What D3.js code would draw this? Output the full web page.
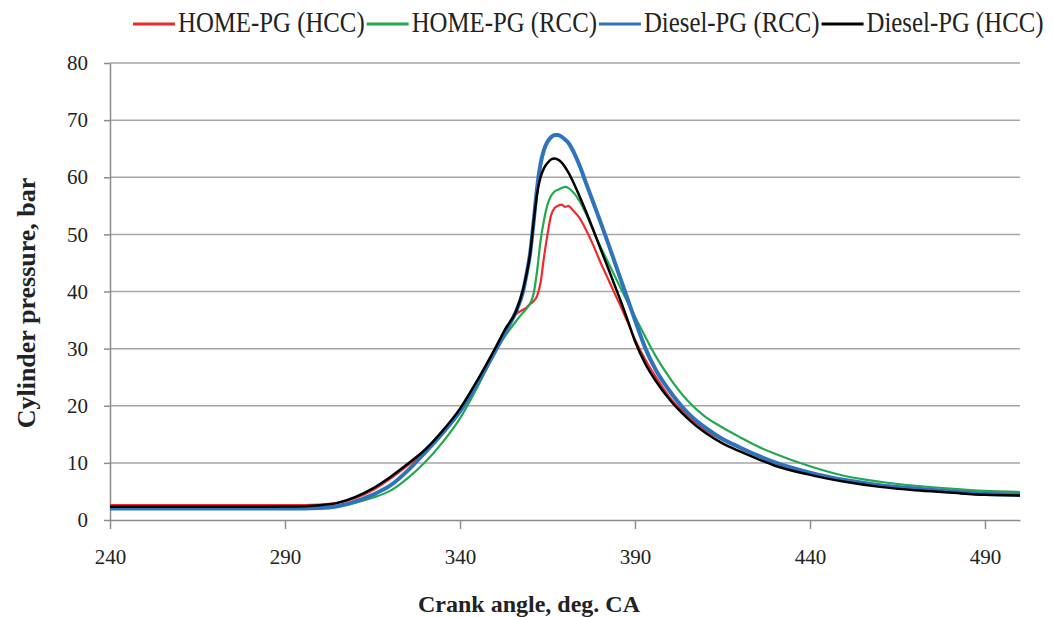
<!DOCTYPE html>
<html>
<head>
<meta charset="utf-8">
<script src="https://cdn.jsdelivr.net/npm/d3@7"></script>
<style>
	body { margin: 0; background: #fff; }
	text { font-family: "Liberation Serif", "Times New Roman", serif; fill: #222; }
</style>
</head>
<body>
<script>
const width = 1053;
const height = 617;

// crank angle grid, deg CA
const angles = [240, 260, 280, 290, 300, 305, 310, 315, 320, 325, 330, 335, 340, 345, 350, 353, 356, 358, 359, 360,
	361, 362, 363, 364, 365, 366, 367, 368, 369, 370, 371, 372, 374, 376, 378, 380, 382, 384, 386, 388,
	390, 393, 396, 400, 405, 410, 415, 420, 425, 430, 440, 450, 460, 470, 480, 490, 500];

// cylinder pressure, bar
const homeHcc = [2.6, 2.6, 2.6, 2.6, 2.7, 3.0, 3.8, 5.2, 7.2, 9.5, 12.0, 15.3, 19.2, 24.2, 29.5, 33.0, 36.0, 36.8, 37.2, 37.8,
	38.3, 39.2, 41.5, 46.0, 50.0, 53.3, 54.6, 55.0, 55.2, 54.8, 55.0, 54.4, 53.0, 50.8, 48.2, 45.3, 42.6, 39.9, 37.3, 34.5,
	31.6, 28.0, 25.0, 21.4, 18.2, 15.8, 14.0, 12.6, 11.3, 10.1, 8.3, 7.0, 6.1, 5.5, 5.1, 4.7, 4.5];
const homeRcc = [2.0, 2.0, 2.0, 2.0, 2.1, 2.3, 3.0, 3.9, 5.1, 7.3, 10.1, 13.6, 17.8, 23.3, 29.3, 32.3, 34.8, 36.3, 37.0, 37.9,
	39.5, 43.5, 48.8, 52.5, 55.2, 56.7, 57.5, 57.8, 58.1, 58.3, 58.1, 57.6, 56.0, 53.6, 50.8, 48.0, 45.5, 43.0, 40.5, 38.0,
	35.6, 32.0, 28.6, 24.8, 20.9, 18.1, 16.2, 14.5, 12.9, 11.6, 9.4, 7.7, 6.7, 6.0, 5.5, 5.1, 4.9];
const dieselRcc = [2.0, 2.0, 2.0, 2.0, 2.1, 2.4, 3.2, 4.4, 6.0, 8.6, 11.8, 15.2, 19.0, 24.0, 29.5, 33.0, 36.5, 40.0, 43.0, 46.5,
	52.0, 58.0, 62.3, 64.8, 66.2, 67.0, 67.4, 67.4, 67.1, 66.6, 66.0, 65.0, 62.3, 59.0, 55.7, 52.4, 49.0, 45.5, 42.0, 38.5,
	35.0, 30.0, 26.2, 22.5, 18.8, 16.2, 14.2, 12.7, 11.3, 10.1, 8.3, 7.0, 6.1, 5.5, 5.0, 4.6, 4.4];
const dieselHcc = [2.3, 2.3, 2.3, 2.35, 2.6, 3.0, 4.0, 5.5, 7.5, 9.8, 12.3, 15.6, 19.5, 24.5, 30.0, 33.5, 36.5, 40.3, 43.0, 46.5,
	52.0, 57.0, 60.0, 61.6, 62.5, 63.1, 63.3, 63.1, 62.6, 61.8, 60.8, 59.6, 56.9, 54.0, 50.9, 47.7, 44.6, 41.4, 38.2, 34.8,
	31.3, 27.3, 24.3, 21.0, 17.8, 15.3, 13.4, 12.0, 10.7, 9.5, 7.9, 6.7, 5.8, 5.2, 4.8, 4.4, 4.3];

const seriesNames = ["HOME-PG (HCC)", "HOME-PG (RCC)", "Diesel-PG (RCC)", "Diesel-PG (HCC)"];
const seriesValues = [homeHcc, homeRcc, dieselRcc, dieselHcc];
const seriesColors = ["#ee2a2a", "#22a94f", "#2f74ba", "#000000"];
const seriesWidths = [2.2, 2.2, 4, 2.5];

const xTicks = [240, 290, 340, 390, 440, 490];
const yTicks = [0, 10, 20, 30, 40, 50, 60, 70, 80];

const margin = { top: 63, right: 33, bottom: 97, left: 110 };

const svg = d3.select("body").append("svg")
	.attr("width", width)
	.attr("height", height);

const x = d3.scaleLinear().domain([240, 500]).range([margin.left, width - margin.right]);
const y = d3.scaleLinear().domain([0, 80]).range([height - margin.bottom, margin.top]);

// gridlines
svg.append("g")
	.selectAll("line")
	.data(yTicks.filter(d => d > 0))
	.join("line")
	.attr("x1", x(240)).attr("x2", x(500))
	.attr("y1", d => y(d)).attr("y2", d => y(d))
	.attr("stroke", "#a6a6a6")
	.attr("stroke-width", 1.5);

// axes
const xAxis = svg.append("g")
	.attr("transform", `translate(0,${y(0)})`)
	.call(d3.axisBottom(x).tickValues(xTicks).tickSize(9).tickPadding(20).tickSizeOuter(0));
const yAxis = svg.append("g")
	.attr("transform", `translate(${x(240)},0)`)
	.call(d3.axisLeft(y).tickValues(yTicks).tickSize(6).tickPadding(16).tickSizeOuter(0));

[xAxis, yAxis].forEach(g => {
	g.select(".domain").attr("stroke", "#8c8c8c").attr("stroke-width", 1.5);
	g.selectAll(".tick line").attr("stroke", "#8c8c8c").attr("stroke-width", 1.5);
	g.selectAll(".tick text")
		.style("font-family", '"Liberation Serif", serif')
		.style("font-size", "21px")
		.attr("fill", "#333");
});

// curves
const line = d3.line()
	.x((d, i) => x(angles[i]))
	.y(d => y(d))
	.curve(d3.curveMonotoneX);

svg.append("g")
	.selectAll("path")
	.data(seriesValues)
	.join("path")
	.attr("d", d => line(d))
	.attr("fill", "none")
	.attr("stroke", (d, i) => seriesColors[i])
	.attr("stroke-width", (d, i) => seriesWidths[i])
	.attr("stroke-linejoin", "round");

// axis titles
svg.append("text")
	.attr("x", 529)
	.attr("y", 612)
	.attr("text-anchor", "middle")
	.style("font-size", "24px")
	.style("font-weight", "bold")
	.text("Crank angle, deg. CA");

svg.append("text")
	.attr("transform", "translate(35,303) rotate(-90)")
	.attr("text-anchor", "middle")
	.style("font-size", "26px")
	.style("font-weight", "bold")
	.text("Cylinder pressure, bar");

// legend
const legend = svg.append("g");
let lx = 133;
seriesNames.forEach((name, i) => {
	legend.append("line")
		.attr("x1", lx).attr("x2", lx + 42)
		.attr("y1", 24).attr("y2", 24)
		.attr("stroke", seriesColors[i])
		.attr("stroke-width", 3);
	const t = legend.append("text")
		.attr("transform", `translate(${lx + 45},32) scale(1,1.15)`)
		.style("font-size", "24.8px")
		.text(name);
	lx += 45 + t.node().getComputedTextLength() + 2;
});
</script>
</body>
</html>
